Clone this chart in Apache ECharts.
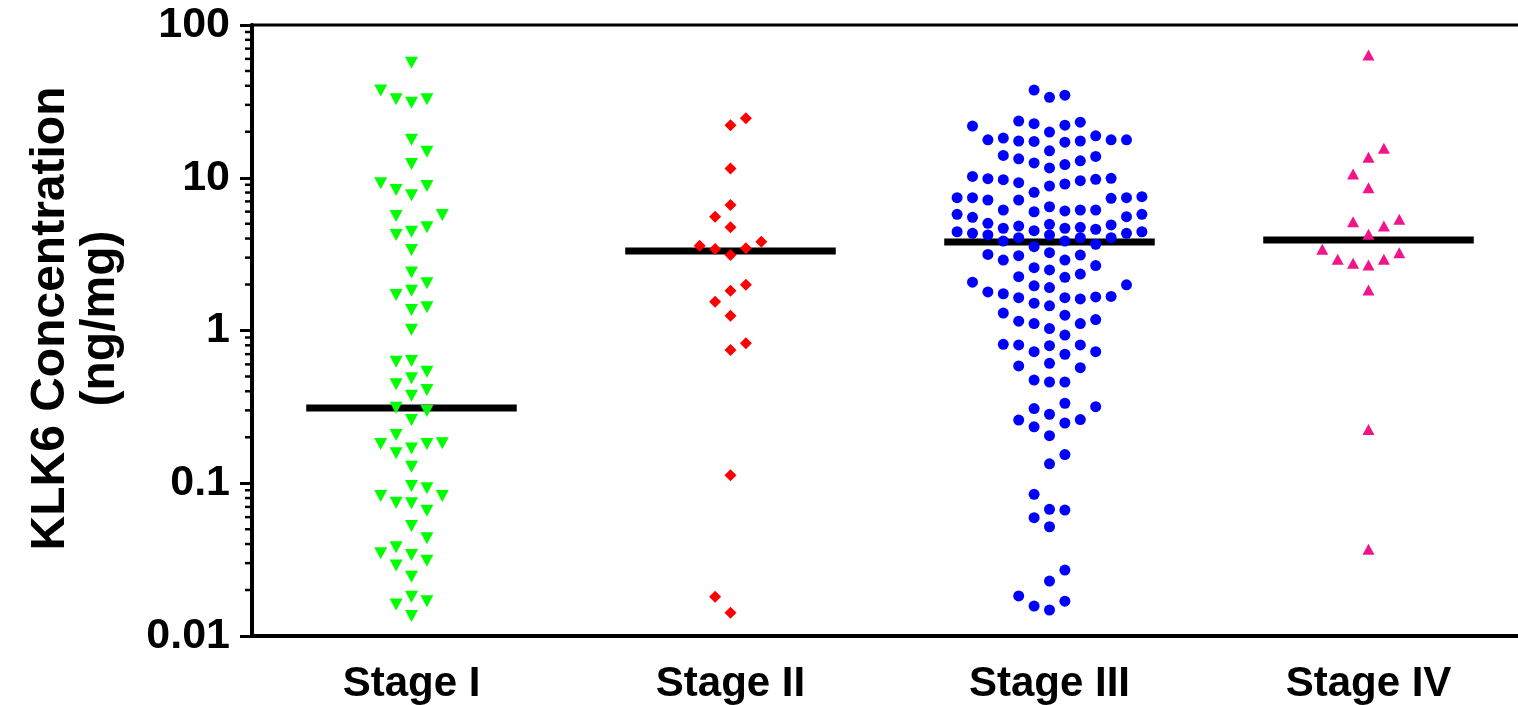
<!DOCTYPE html>
<html><head><meta charset="utf-8">
<script src="https://cdn.jsdelivr.net/npm/echarts@6/dist/echarts.min.js"></script>
<style>html,body{margin:0;padding:0;background:#fff}#c{width:1518px;height:705px}</style>
</head><body><div id="c"></div>
<script>
const categories = ['Stage I', 'Stage II', 'Stage III', 'Stage IV'];
const yTickLabels = ['0.01', '0.1', '1', '10', '100'];
const stageI = [56.6, 37.2, 32.7, 31, 32.7, 17.7, 14.8, 12.3, 8.83, 7.68, 8.32, 9.2, 5.7, 4.74, 4.43, 5.62, 4.22,
  3.36, 2.40, 2.04, 1.82, 1.71, 1.42, 1.36, 1.01, 0.625, 0.631, 0.537, 0.486, 0.444, 0.374, 0.408, 0.297, 0.312, 0.259, 0.207,
  0.183, 0.157, 0.169, 0.181, 0.181, 0.128, 0.096, 0.0927, 0.0826, 0.0746, 0.0739, 0.0826, 0.0661, 0.0525, 0.0436,
  0.0348, 0.0311, 0.0339, 0.0381, 0.0289, 0.0244, 0.0169, 0.0181, 0.0161, 0.0135];
const stageII = [24.5, 22.1, 11.5, 6.64, 5.56, 4.74, 3.59, 3.42, 3.12, 3.45, 3.81, 1.99, 1.82, 1.54, 1.25, 0.824, 0.745,
  0.113, 0.0181, 0.0142];
const stageIII = [34.7, 33.6, 37.5, 23.5, 22.6, 23.1, 22.1, 21.8, 19.9, 18.2, 17.7, 17.4, 17.3, 17.1, 17.4, 17.7, 17.7, 18.8,
  14.0, 13.3, 12.5, 11.6, 12.2, 12.9, 13.8, 15.0, 10.2, 9.86, 9.71, 9.28, 8.83, 8.03, 9.10, 9.56, 9.77, 9.92,
  7.40, 7.40, 7.15, 6.46, 6.15, 6.15, 6.15, 7.15, 7.34, 7.40, 7.52, 5.99, 5.76, 5.51, 6.06, 5.56, 5.76,
  4.96, 4.83, 4.67, 4.60, 4.67, 4.50, 4.74, 4.91, 5.03,
  4.43, 4.33, 4.22, 4.05, 4.05, 3.85, 3.85, 4.05, 4.22, 4.33, 4.43, 3.54, 3.67,
  3.15, 3.09, 2.89, 2.58, 2.49, 2.66, 2.89, 3.12, 3.23,
  2.34, 2.23, 1.99, 1.91, 1.96, 2.07, 2.25,
  1.74, 1.66, 1.64, 1.51, 1.45, 1.61, 1.64, 1.67, 1.79,
  1.26, 1.15, 1.11, 1.11, 1.18, 1.30, 1.03,
  0.934, 0.812, 0.804, 0.795, 0.804, 0.727, 0.699, 0.727,
  0.571, 0.610, 0.586, 0.460, 0.460, 0.474, 0.317, 0.283, 0.308, 0.334, 0.259, 0.234, 0.248, 0.261, 0.205, 0.154, 0.134,
  0.0847, 0.0668, 0.0595, 0.0675, 0.0519, 0.0270, 0.0229, 0.0169, 0.0148, 0.0157, 0.0183];
const stageIV = [63.6, 15.6, 13.6, 10.6, 8.61, 5.15, 4.83, 5.35, 4.26, 3.40, 2.93, 2.76, 2.68, 2.93, 3.23, 1.84, 0.225, 0.037];
const medians = [0.311, 3.31, 3.80, 3.91];

const FONT = '"Liberation Sans", Arial, sans-serif';
const chart = echarts.init(document.getElementById('c'), null, { renderer: 'canvas' });

const minorVals = [];
for (let e = -2; e < 2; e++) for (let m = 2; m <= 9; m++) minorVals.push(m * Math.pow(10, e));

const baseOption = {
  animation: false,
  backgroundColor: '#fff',
  textStyle: { fontFamily: FONT, fontWeight: 'bold', color: '#000' },
  grid: { left: 252, right: -10, top: 25, bottom: 69, show: true, borderColor: '#000', borderWidth: 3, containLabel: false, outerBoundsMode: 'none' },
  xAxis: [
    { type: 'category', data: categories, position: 'bottom', boundaryGap: true,
      axisLine: { onZero: false, lineStyle: { color: '#000', width: 4 } },
      axisTick: { show: false },
      axisLabel: { color: '#000', fontSize: 42, fontWeight: 'bold', fontFamily: FONT, margin: 27 },
      splitLine: { show: false } },
    { type: 'value', min: -0.5, max: 3.5, show: false, axisLine: { onZero: false }, splitLine: { show: false } }
  ],
  yAxis: [{
    type: 'log', logBase: 10, min: 0.01, max: 100,
    name: 'KLK6 Concentration\n(ng/mg)', nameLocation: 'middle', nameRotate: 90, nameGap: 126,
    nameTextStyle: { fontSize: 48, fontWeight: 'bold', fontFamily: FONT, color: '#000', lineHeight: 50, padding: [0, 0, 0, 24] },
    axisLine: { show: true, onZero: false, lineStyle: { color: '#000', width: 4 } },
    axisTick: { show: true, length: 12, lineStyle: { color: '#000', width: 3 } },
    minorTick: { show: false },
    splitLine: { show: false },
    axisLabel: { color: '#000', fontSize: 43, fontWeight: 'bold', fontFamily: FONT, margin: 22, padding: [14, 0, 0, 0],
      formatter: v => yTickLabels[Math.round(Math.log10(v)) + 2] }
  }],
  series: [
    { type: 'custom', xAxisIndex: 1, yAxisIndex: 0, z: 3, clip: false,
      data: medians.map((m, i) => [i, m]),
      renderItem: (params, api) => {
        const a = api.coord([api.value(0) - 0.33, api.value(1)]);
        const b = api.coord([api.value(0) + 0.33, api.value(1)]);
        return { type: 'line', shape: { x1: a[0], y1: a[1], x2: b[0], y2: a[1] }, style: { stroke: '#000', lineWidth: 7 } };
      } },
    { type: 'custom', xAxisIndex: 1, yAxisIndex: 0, z: 3, clip: false, silent: true,
      data: minorVals.map(v => [-0.5, v]),
      renderItem: (params, api) => {
        const p = api.coord([api.value(0), api.value(1)]);
        return { type: 'line', shape: { x1: p[0] - 7, y1: p[1], x2: p[0], y2: p[1] }, style: { stroke: '#000', lineWidth: 2.5 } };
      } }
  ]
};
chart.setOption(baseOption);

const yPx = v => chart.convertToPixel({ yAxisIndex: 0 }, v);
const xUnitPx = chart.convertToPixel({ xAxisIndex: 1 }, 1) - chart.convertToPixel({ xAxisIndex: 1 }, 0);

// Column scatter layout: points placed from lowest value upward, each in the nearest
// free column, alternating the side that is tried first.
function swarm(vals, ci, colPx, minDy, maxK) {
  const pts = vals.map(v => ({ v, y: yPx(v) })).sort((a, b) => b.y - a.y);
  const cols = new Map();
  const gap = (k, y) => (cols.get(k) || []).reduce((m, yy) => Math.min(m, Math.abs(yy - y)), Infinity);
  let leftFirst = true;
  const out = [];
  for (const p of pts) {
    let chosen = null;
    if (gap(0, p.y) >= minDy) chosen = 0;
    else {
      for (let k = 1; k <= maxK && chosen === null; k++) {
        for (const kk of (leftFirst ? [-k, k] : [k, -k])) {
          if (gap(kk, p.y) >= minDy) { chosen = kk; break; }
        }
      }
      if (chosen === null) {
        let best = -1;
        for (let k = 0; k <= maxK; k++) {
          for (const kk of (k === 0 ? [0] : (leftFirst ? [-k, k] : [k, -k]))) {
            const g = gap(kk, p.y);
            if (g > best + 0.5) { best = g; chosen = kk; }
          }
        }
      }
      leftFirst = !leftFirst;
    }
    if (!cols.has(chosen)) cols.set(chosen, []);
    cols.get(chosen).push(p.y);
    out.push([ci + chosen * colPx / xUnitPx, p.v]);
  }
  return out;
}

const groups = [
  { vals: stageI, color: '#00ff00', symbol: 'triangle', rotate: 180, size: [13, 12] },
  { vals: stageII, color: '#ff0000', symbol: 'diamond', rotate: 0, size: [12, 12] },
  { vals: stageIII, color: '#0000ff', symbol: 'circle', rotate: 0, size: 11 },
  { vals: stageIV, color: '#f0168a', symbol: 'triangle', rotate: 0, size: [12, 11] }
];

chart.setOption({
  series: baseOption.series.concat(groups.map((g, i) => ({
    type: 'scatter', xAxisIndex: 1, yAxisIndex: 0, z: 5,
    symbol: g.symbol, symbolRotate: g.rotate, symbolSize: g.size,
    itemStyle: { color: g.color, opacity: 1 },
    data: swarm(g.vals, i, 15.4, 17, 6)
  })))
});
</script></body></html>
